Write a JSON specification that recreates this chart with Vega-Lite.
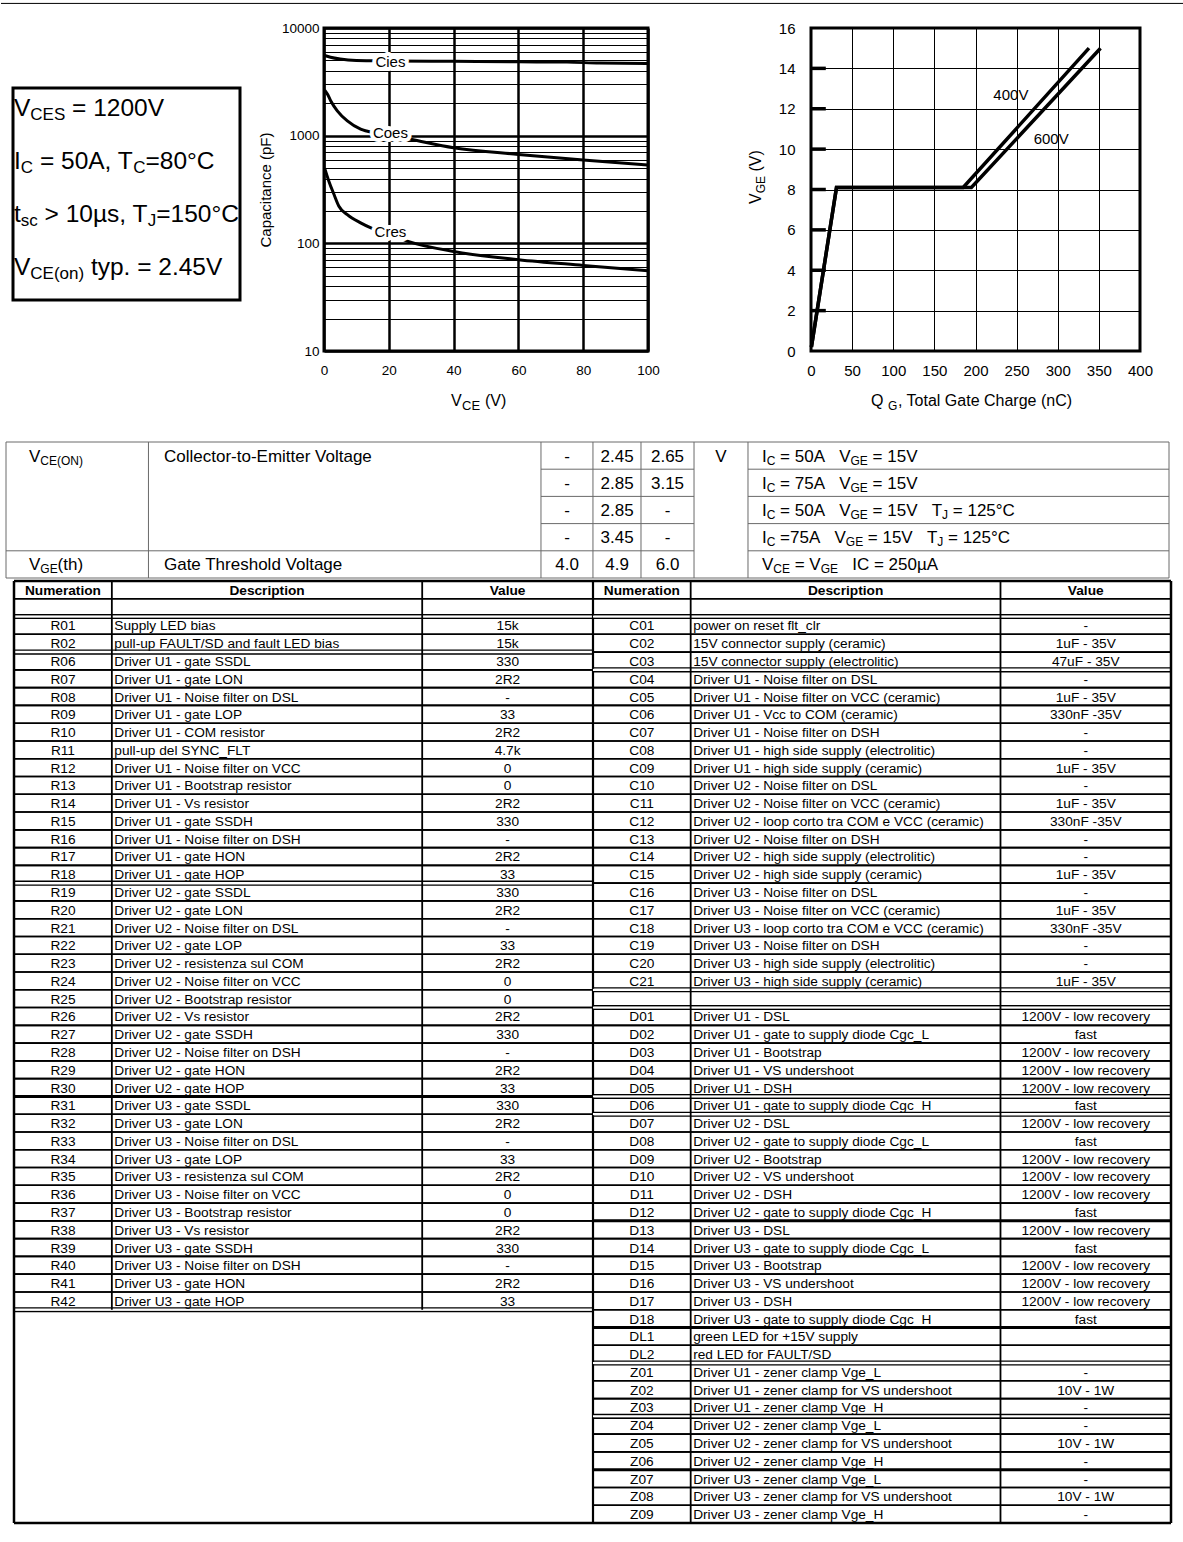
{
"$schema": "https://vega.github.io/schema/vega-lite/v6.json",
"background": "white",
"padding": 0,
"spacing": 0,
"config": {
  "font": "Liberation Sans",
  "view": {"stroke": null},
  "concat": {"spacing": 0},
  "axis": {"labelFont": "Liberation Sans", "titleFont": "Liberation Sans", "labelColor": "black", "titleColor": "black"},
  "text": {"color": "black"}
},
"datasets": {
  "cap": [
    {"series":"Cies","vce":0.2,"cap":5550},{"series":"Cies","vce":2,"cap":5350},{"series":"Cies","vce":5,"cap":5150},{"series":"Cies","vce":10,"cap":5000},{"series":"Cies","vce":20,"cap":4950},{"series":"Cies","vce":40,"cap":4900},{"series":"Cies","vce":60,"cap":4850},{"series":"Cies","vce":75,"cap":4820},{"series":"Cies","vce":85,"cap":4720},{"series":"Cies","vce":100,"cap":4680},
    {"series":"Coes","vce":0.2,"cap":2650},{"series":"Coes","vce":1,"cap":2450},{"series":"Coes","vce":2.1,"cap":2100},{"series":"Coes","vce":4.1,"cap":1700},{"series":"Coes","vce":7.2,"cap":1370},{"series":"Coes","vce":11.3,"cap":1150},{"series":"Coes","vce":16,"cap":1060},{"series":"Coes","vce":20,"cap":1010},{"series":"Coes","vce":26.7,"cap":925},{"series":"Coes","vce":40,"cap":773},{"series":"Coes","vce":60,"cap":670},{"series":"Coes","vce":80,"cap":593},{"series":"Coes","vce":100,"cap":533},
    {"series":"Cres","vce":0.2,"cap":500},{"series":"Cres","vce":1.5,"cap":378},{"series":"Cres","vce":3.1,"cap":284},{"series":"Cres","vce":4.6,"cap":221},{"series":"Cres","vce":7.2,"cap":185},{"series":"Cres","vce":11.3,"cap":155},{"series":"Cres","vce":15,"cap":137},{"series":"Cres","vce":20,"cap":122},{"series":"Cres","vce":25.7,"cap":105},{"series":"Cres","vce":40,"cap":84},{"series":"Cres","vce":60,"cap":70.5},{"series":"Cres","vce":80,"cap":62.4},{"series":"Cres","vce":100,"cap":55.6}
  ],
  "capLabels": [
    {"vce":20.5,"cap":4800,"label":"Cies"},
    {"vce":20.5,"cap":1050,"label":"Coes"},
    {"vce":20.5,"cap":127,"label":"Cres"}
  ],
  "gate": [
    {"series":"400V","qg":0.5,"vge":0.2},{"series":"400V","qg":31,"vge":8.1},{"series":"400V","qg":185,"vge":8.1},{"series":"400V","qg":338,"vge":15},
    {"series":"600V","qg":0.5,"vge":0.2},{"series":"600V","qg":31,"vge":8.1},{"series":"600V","qg":195,"vge":8.1},{"series":"600V","qg":352,"vge":15}
  ],
  "gateLabels": [
    {"qg":243,"vge":12.7,"label":"400V"},
    {"qg":292,"vge":10.5,"label":"600V"}
  ],
  "box": [
    {"line":1,"s1":"V","s2":"CES","s3":"= 1200V","s4":"","s5":""},
    {"line":2,"s1":"I","s2":"C","s3":"= 50A, T","s4":"C","s5":"=80°C"},
    {"line":3,"s1":"t","s2":"sc","s3":"> 10µs, T","s4":"J","s5":"=150°C"},
    {"line":4,"s1":"V","s2":"CE(on)","s3":"typ. = 2.45V","s4":"","s5":""}
  ],
  "spec": [
    {"row":0,"sym":"V","symSub":"CE(ON)","symTail":"","desc":"Collector-to-Emitter Voltage","min":"-","typ":"2.45","max":"2.65","unit":"V","a":"I","b":"C","c":"= 50A\u00a0\u00a0\u00a0V","d":"GE","e":"= 15V","f":"","g":"","h":""},
    {"row":1,"sym":"","symSub":"","symTail":"","desc":"","min":"-","typ":"2.85","max":"3.15","unit":"","a":"I","b":"C","c":"= 75A\u00a0\u00a0\u00a0V","d":"GE","e":"= 15V","f":"","g":"","h":""},
    {"row":2,"sym":"","symSub":"","symTail":"","desc":"","min":"-","typ":"2.85","max":"-","unit":"","a":"I","b":"C","c":"= 50A\u00a0\u00a0\u00a0V","d":"GE","e":"= 15V","f":"T","g":"J","h":"= 125°C"},
    {"row":3,"sym":"","symSub":"","symTail":"","desc":"","min":"-","typ":"3.45","max":"-","unit":"","a":"I","b":"C","c":"=75A\u00a0\u00a0\u00a0V","d":"GE","e":"= 15V","f":"T","g":"J","h":"= 125°C"},
    {"row":4,"sym":"V","symSub":"GE","symTail":"(th)","desc":"Gate Threshold Voltage","min":"4.0","typ":"4.9","max":"6.0","unit":"","a":"V","b":"CE","c":"= V","d":"GE","e":"IC = 250µA","f":"","g":"","h":""}
  ],
  "parts": [
    {"side":"L","row":-2,"ref":"Numeration","desc":"Description","value":"Value"},
    {"side":"L","row":-1,"ref":"","desc":"","value":""},
    {"side":"L","row":0,"ref":"R01","desc":"Supply LED bias","value":"15k"},
    {"side":"L","row":1,"ref":"R02","desc":"pull-up FAULT/SD and fault LED bias","value":"15k"},
    {"side":"L","row":2,"ref":"R06","desc":"Driver U1 - gate SSDL","value":"330"},
    {"side":"L","row":3,"ref":"R07","desc":"Driver U1 - gate LON","value":"2R2"},
    {"side":"L","row":4,"ref":"R08","desc":"Driver U1 - Noise filter on DSL","value":"-"},
    {"side":"L","row":5,"ref":"R09","desc":"Driver U1 - gate LOP","value":"33"},
    {"side":"L","row":6,"ref":"R10","desc":"Driver U1 - COM resistor","value":"2R2"},
    {"side":"L","row":7,"ref":"R11","desc":"pull-up del SYNC_FLT","value":"4.7k"},
    {"side":"L","row":8,"ref":"R12","desc":"Driver U1 - Noise filter on VCC","value":"0"},
    {"side":"L","row":9,"ref":"R13","desc":"Driver U1 - Bootstrap resistor","value":"0"},
    {"side":"L","row":10,"ref":"R14","desc":"Driver U1 - Vs resistor","value":"2R2"},
    {"side":"L","row":11,"ref":"R15","desc":"Driver U1 - gate SSDH","value":"330"},
    {"side":"L","row":12,"ref":"R16","desc":"Driver U1 - Noise filter on DSH","value":"-"},
    {"side":"L","row":13,"ref":"R17","desc":"Driver U1 - gate HON","value":"2R2"},
    {"side":"L","row":14,"ref":"R18","desc":"Driver U1 - gate HOP","value":"33"},
    {"side":"L","row":15,"ref":"R19","desc":"Driver U2 - gate SSDL","value":"330"},
    {"side":"L","row":16,"ref":"R20","desc":"Driver U2 - gate LON","value":"2R2"},
    {"side":"L","row":17,"ref":"R21","desc":"Driver U2 - Noise filter on DSL","value":"-"},
    {"side":"L","row":18,"ref":"R22","desc":"Driver U2 - gate LOP","value":"33"},
    {"side":"L","row":19,"ref":"R23","desc":"Driver U2 - resistenza sul COM","value":"2R2"},
    {"side":"L","row":20,"ref":"R24","desc":"Driver U2 - Noise filter on VCC","value":"0"},
    {"side":"L","row":21,"ref":"R25","desc":"Driver U2 - Bootstrap resistor","value":"0"},
    {"side":"L","row":22,"ref":"R26","desc":"Driver U2 - Vs resistor","value":"2R2"},
    {"side":"L","row":23,"ref":"R27","desc":"Driver U2 - gate SSDH","value":"330"},
    {"side":"L","row":24,"ref":"R28","desc":"Driver U2 - Noise filter on DSH","value":"-"},
    {"side":"L","row":25,"ref":"R29","desc":"Driver U2 - gate HON","value":"2R2"},
    {"side":"L","row":26,"ref":"R30","desc":"Driver U2 - gate HOP","value":"33"},
    {"side":"L","row":27,"ref":"R31","desc":"Driver U3 - gate SSDL","value":"330"},
    {"side":"L","row":28,"ref":"R32","desc":"Driver U3 - gate LON","value":"2R2"},
    {"side":"L","row":29,"ref":"R33","desc":"Driver U3 - Noise filter on DSL","value":"-"},
    {"side":"L","row":30,"ref":"R34","desc":"Driver U3 - gate LOP","value":"33"},
    {"side":"L","row":31,"ref":"R35","desc":"Driver U3 - resistenza sul COM","value":"2R2"},
    {"side":"L","row":32,"ref":"R36","desc":"Driver U3 - Noise filter on VCC","value":"0"},
    {"side":"L","row":33,"ref":"R37","desc":"Driver U3 - Bootstrap resistor","value":"0"},
    {"side":"L","row":34,"ref":"R38","desc":"Driver U3 - Vs resistor","value":"2R2"},
    {"side":"L","row":35,"ref":"R39","desc":"Driver U3 - gate SSDH","value":"330"},
    {"side":"L","row":36,"ref":"R40","desc":"Driver U3 - Noise filter on DSH","value":"-"},
    {"side":"L","row":37,"ref":"R41","desc":"Driver U3 - gate HON","value":"2R2"},
    {"side":"L","row":38,"ref":"R42","desc":"Driver U3 - gate HOP","value":"33"},
    {"side":"R","row":-2,"ref":"Numeration","desc":"Description","value":"Value"},
    {"side":"R","row":-1,"ref":"","desc":"","value":""},
    {"side":"R","row":0,"ref":"C01","desc":"power on reset flt_clr","value":"-"},
    {"side":"R","row":1,"ref":"C02","desc":"15V connector supply (ceramic)","value":"1uF - 35V"},
    {"side":"R","row":2,"ref":"C03","desc":"15V connector supply (electrolitic)","value":"47uF - 35V"},
    {"side":"R","row":3,"ref":"C04","desc":"Driver U1 - Noise filter on DSL","value":"-"},
    {"side":"R","row":4,"ref":"C05","desc":"Driver U1 - Noise filter on VCC (ceramic)","value":"1uF - 35V"},
    {"side":"R","row":5,"ref":"C06","desc":"Driver U1 - Vcc to COM (ceramic)","value":"330nF -35V"},
    {"side":"R","row":6,"ref":"C07","desc":"Driver U1 - Noise filter on DSH","value":"-"},
    {"side":"R","row":7,"ref":"C08","desc":"Driver U1 - high side supply (electrolitic)","value":"-"},
    {"side":"R","row":8,"ref":"C09","desc":"Driver U1 - high side supply (ceramic)","value":"1uF - 35V"},
    {"side":"R","row":9,"ref":"C10","desc":"Driver U2 - Noise filter on DSL","value":"-"},
    {"side":"R","row":10,"ref":"C11","desc":"Driver U2 - Noise filter on VCC (ceramic)","value":"1uF - 35V"},
    {"side":"R","row":11,"ref":"C12","desc":"Driver U2 - loop corto tra COM e VCC (ceramic)","value":"330nF -35V"},
    {"side":"R","row":12,"ref":"C13","desc":"Driver U2 - Noise filter on DSH","value":"-"},
    {"side":"R","row":13,"ref":"C14","desc":"Driver U2 - high side supply (electrolitic)","value":"-"},
    {"side":"R","row":14,"ref":"C15","desc":"Driver U2 - high side supply (ceramic)","value":"1uF - 35V"},
    {"side":"R","row":15,"ref":"C16","desc":"Driver U3 - Noise filter on DSL","value":"-"},
    {"side":"R","row":16,"ref":"C17","desc":"Driver U3 - Noise filter on VCC (ceramic)","value":"1uF - 35V"},
    {"side":"R","row":17,"ref":"C18","desc":"Driver U3 - loop corto tra COM e VCC (ceramic)","value":"330nF -35V"},
    {"side":"R","row":18,"ref":"C19","desc":"Driver U3 - Noise filter on DSH","value":"-"},
    {"side":"R","row":19,"ref":"C20","desc":"Driver U3 - high side supply (electrolitic)","value":"-"},
    {"side":"R","row":20,"ref":"C21","desc":"Driver U3 - high side supply (ceramic)","value":"1uF - 35V"},
    {"side":"R","row":21,"ref":"","desc":"","value":""},
    {"side":"R","row":22,"ref":"D01","desc":"Driver U1 - DSL","value":"1200V - low recovery"},
    {"side":"R","row":23,"ref":"D02","desc":"Driver U1 - gate to supply diode Cgc_L","value":"fast"},
    {"side":"R","row":24,"ref":"D03","desc":"Driver U1 - Bootstrap","value":"1200V - low recovery"},
    {"side":"R","row":25,"ref":"D04","desc":"Driver U1 - VS undershoot","value":"1200V - low recovery"},
    {"side":"R","row":26,"ref":"D05","desc":"Driver U1 - DSH","value":"1200V - low recovery"},
    {"side":"R","row":27,"ref":"D06","desc":"Driver U1 - gate to supply diode Cgc_H","value":"fast"},
    {"side":"R","row":28,"ref":"D07","desc":"Driver U2 - DSL","value":"1200V - low recovery"},
    {"side":"R","row":29,"ref":"D08","desc":"Driver U2 - gate to supply diode Cgc_L","value":"fast"},
    {"side":"R","row":30,"ref":"D09","desc":"Driver U2 - Bootstrap","value":"1200V - low recovery"},
    {"side":"R","row":31,"ref":"D10","desc":"Driver U2 - VS undershoot","value":"1200V - low recovery"},
    {"side":"R","row":32,"ref":"D11","desc":"Driver U2 - DSH","value":"1200V - low recovery"},
    {"side":"R","row":33,"ref":"D12","desc":"Driver U2 - gate to supply diode Cgc_H","value":"fast"},
    {"side":"R","row":34,"ref":"D13","desc":"Driver U3 - DSL","value":"1200V - low recovery"},
    {"side":"R","row":35,"ref":"D14","desc":"Driver U3 - gate to supply diode Cgc_L","value":"fast"},
    {"side":"R","row":36,"ref":"D15","desc":"Driver U3 - Bootstrap","value":"1200V - low recovery"},
    {"side":"R","row":37,"ref":"D16","desc":"Driver U3 - VS undershoot","value":"1200V - low recovery"},
    {"side":"R","row":38,"ref":"D17","desc":"Driver U3 - DSH","value":"1200V - low recovery"},
    {"side":"R","row":39,"ref":"D18","desc":"Driver U3 - gate to supply diode Cgc_H","value":"fast"},
    {"side":"R","row":40,"ref":"DL1","desc":"green LED for +15V supply","value":""},
    {"side":"R","row":41,"ref":"DL2","desc":"red LED for FAULT/SD","value":""},
    {"side":"R","row":42,"ref":"Z01","desc":"Driver U1 - zener clamp Vge_L","value":"-"},
    {"side":"R","row":43,"ref":"Z02","desc":"Driver U1 - zener clamp for VS undershoot","value":"10V - 1W"},
    {"side":"R","row":44,"ref":"Z03","desc":"Driver U1 - zener clamp Vge_H","value":"-"},
    {"side":"R","row":45,"ref":"Z04","desc":"Driver U2 - zener clamp Vge_L","value":"-"},
    {"side":"R","row":46,"ref":"Z05","desc":"Driver U2 - zener clamp for VS undershoot","value":"10V - 1W"},
    {"side":"R","row":47,"ref":"Z06","desc":"Driver U2 - zener clamp Vge_H","value":"-"},
    {"side":"R","row":48,"ref":"Z07","desc":"Driver U3 - zener clamp Vge_L","value":"-"},
    {"side":"R","row":49,"ref":"Z08","desc":"Driver U3 - zener clamp for VS undershoot","value":"10V - 1W"},
    {"side":"R","row":50,"ref":"Z09","desc":"Driver U3 - zener clamp Vge_H","value":"-"}
  ],
  "sepL2": [{"b":-0.5},{"b":1.5},{"b":14.5},{"b":38.5}],
  "sepLT": [{"b":26.5}],
  "sepR2": [{"b":-0.5},{"b":2.5},{"b":20.5},{"b":21.5},{"b":26.5},{"b":27.5},{"b":41.5},{"b":44.5}],
  "sepRT": [{"b":33.5},{"b":39.5},{"b":47.5}]
},
"vconcat": [
  {"width": 1183, "height": 19, "data": {"values": [{}]},
   "mark": {"type": "rule", "color": "black", "strokeWidth": 1},
   "encoding": {"y": {"datum": 0.82, "type": "quantitative", "scale": {"domain": [0, 1]}, "axis": null}}},
  {"hconcat": [
    {"width": 12, "height": 413, "data": {"values": []}, "mark": "point", "encoding": {}},
    {"width": 227, "height": 272, "data": {"name": "box"},
     "layer": [
      {"data": {"values": [{}]}, "mark": {"type": "rect", "filled": false, "color": "black", "strokeWidth": 3},
       "encoding": {"x": {"datum": 0, "type": "quantitative", "scale": {"domain": [0, 1]}, "axis": null}, "x2": {"datum": 1},
                    "y": {"datum": 0.5, "type": "quantitative", "scale": {"domain": [-0.632, 4.5], "reverse": true, "zero": false, "nice": false}, "axis": null}, "y2": {"datum": 4.5}}},
      {"mark": {"type": "text", "align": "left", "baseline": "alphabetic", "fontSize": 24.5, "dx": 1, "dy": 2},
       "encoding": {"x": {"datum": 0, "type": "quantitative", "scale": {"domain": [0, 1]}, "axis": null},
                    "y": {"field": "line", "type": "quantitative", "scale": {"domain": [-0.632, 4.5], "reverse": true, "zero": false, "nice": false}, "axis": null},
                    "text": {"field": "s1"}}},
      {"transform": [{"filter": "datum.line == 1 || datum.line == 4"}],
       "mark": {"type": "text", "align": "left", "baseline": "alphabetic", "fontSize": 17, "dx": 17.3, "dy": 5.5},
       "encoding": {"x": {"datum": 0, "type": "quantitative", "scale": {"domain": [0, 1]}, "axis": null},
                    "y": {"field": "line", "type": "quantitative", "scale": {"domain": [-0.632, 4.5], "reverse": true, "zero": false, "nice": false}, "axis": null},
                    "text": {"field": "s2"}}},
      {"transform": [{"filter": "datum.line == 2 || datum.line == 3"}],
       "mark": {"type": "text", "align": "left", "baseline": "alphabetic", "fontSize": 17, "dx": 7.8, "dy": 5.5},
       "encoding": {"x": {"datum": 0, "type": "quantitative", "scale": {"domain": [0, 1]}, "axis": null},
                    "y": {"field": "line", "type": "quantitative", "scale": {"domain": [-0.632, 4.5], "reverse": true, "zero": false, "nice": false}, "axis": null},
                    "text": {"field": "s2"}}},
      {"transform": [{"filter": "datum.line == 1"}],
       "mark": {"type": "text", "align": "left", "baseline": "alphabetic", "fontSize": 24.5, "dx": 59.1, "dy": 2},
       "encoding": {"x": {"datum": 0, "type": "quantitative", "scale": {"domain": [0, 1]}, "axis": null},
                    "y": {"field": "line", "type": "quantitative", "scale": {"domain": [-0.632, 4.5], "reverse": true, "zero": false, "nice": false}, "axis": null},
                    "text": {"field": "s3"}}},
      {"transform": [{"filter": "datum.line == 2"}],
       "mark": {"type": "text", "align": "left", "baseline": "alphabetic", "fontSize": 24.5, "dx": 26.9, "dy": 2},
       "encoding": {"x": {"datum": 0, "type": "quantitative", "scale": {"domain": [0, 1]}, "axis": null},
                    "y": {"field": "line", "type": "quantitative", "scale": {"domain": [-0.632, 4.5], "reverse": true, "zero": false, "nice": false}, "axis": null},
                    "text": {"field": "s3"}}},
      {"transform": [{"filter": "datum.line == 3"}],
       "mark": {"type": "text", "align": "left", "baseline": "alphabetic", "fontSize": 24.5, "dx": 31.6, "dy": 2},
       "encoding": {"x": {"datum": 0, "type": "quantitative", "scale": {"domain": [0, 1]}, "axis": null},
                    "y": {"field": "line", "type": "quantitative", "scale": {"domain": [-0.632, 4.5], "reverse": true, "zero": false, "nice": false}, "axis": null},
                    "text": {"field": "s3"}}},
      {"transform": [{"filter": "datum.line == 4"}],
       "mark": {"type": "text", "align": "left", "baseline": "alphabetic", "fontSize": 24.5, "dx": 77.9, "dy": 2},
       "encoding": {"x": {"datum": 0, "type": "quantitative", "scale": {"domain": [0, 1]}, "axis": null},
                    "y": {"field": "line", "type": "quantitative", "scale": {"domain": [-0.632, 4.5], "reverse": true, "zero": false, "nice": false}, "axis": null},
                    "text": {"field": "s3"}}},
      {"transform": [{"filter": "datum.line == 2"}],
       "mark": {"type": "text", "align": "left", "baseline": "alphabetic", "fontSize": 17, "dx": 120.2, "dy": 5.5},
       "encoding": {"x": {"datum": 0, "type": "quantitative", "scale": {"domain": [0, 1]}, "axis": null},
                    "y": {"field": "line", "type": "quantitative", "scale": {"domain": [-0.632, 4.5], "reverse": true, "zero": false, "nice": false}, "axis": null},
                    "text": {"field": "s4"}}},
      {"transform": [{"filter": "datum.line == 3"}],
       "mark": {"type": "text", "align": "left", "baseline": "alphabetic", "fontSize": 17, "dx": 134.8, "dy": 5.5},
       "encoding": {"x": {"datum": 0, "type": "quantitative", "scale": {"domain": [0, 1]}, "axis": null},
                    "y": {"field": "line", "type": "quantitative", "scale": {"domain": [-0.632, 4.5], "reverse": true, "zero": false, "nice": false}, "axis": null},
                    "text": {"field": "s4"}}},
      {"transform": [{"filter": "datum.line == 2"}],
       "mark": {"type": "text", "align": "left", "baseline": "alphabetic", "fontSize": 24.5, "dx": 132.5, "dy": 2},
       "encoding": {"x": {"datum": 0, "type": "quantitative", "scale": {"domain": [0, 1]}, "axis": null},
                    "y": {"field": "line", "type": "quantitative", "scale": {"domain": [-0.632, 4.5], "reverse": true, "zero": false, "nice": false}, "axis": null},
                    "text": {"field": "s5"}}},
      {"transform": [{"filter": "datum.line == 3"}],
       "mark": {"type": "text", "align": "left", "baseline": "alphabetic", "fontSize": 24.5, "dx": 143.3, "dy": 2},
       "encoding": {"x": {"datum": 0, "type": "quantitative", "scale": {"domain": [0, 1]}, "axis": null},
                    "y": {"field": "line", "type": "quantitative", "scale": {"domain": [-0.632, 4.5], "reverse": true, "zero": false, "nice": false}, "axis": null},
                    "text": {"field": "s5"}}}
     ]},
    {"width": 84, "height": 1, "data": {"values": []}, "mark": "point", "encoding": {}},
    {"width": 324, "height": 323,
     "view": {"stroke": "black", "strokeWidth": 3},
     "layer": [
      {"data": {"name": "cap"},
       "mark": {"type": "line", "color": "black", "strokeWidth": 3, "interpolate": "monotone"},
       "encoding": {
         "x": {"field": "vce", "type": "quantitative", "scale": {"domain": [0, 100], "nice": false, "zero": false},
               "axis": {"values": [0, 20, 40, 60, 80, 100], "grid": true, "gridColor": "black", "gridWidth": 2.5, "domain": false, "ticks": false, "tickSize": 0, "labelFontSize": 13.5, "labelPadding": 12, "labelFlush": false, "title": null}},
         "y": {"field": "cap", "type": "quantitative", "scale": {"type": "log", "domain": [10, 10000], "nice": false},
               "axis": {"values": [10, 20, 30, 40, 50, 60, 70, 80, 90, 100, 200, 300, 400, 500, 600, 700, 800, 900, 1000, 2000, 3000, 4000, 5000, 6000, 7000, 8000, 9000, 10000],
                        "grid": true, "gridColor": "black",
                        "gridWidth": {"condition": {"test": "datum.value == 10 || datum.value == 100 || datum.value == 1000 || datum.value == 10000", "value": 2.5}, "value": 1.2},
                        "domain": false, "ticks": false, "tickSize": 0, "labelFontSize": 13.5, "labelPadding": 5, "format": "d", "labelOverlap": false,
                        "labelExpr": "datum.value == 10 || datum.value == 100 || datum.value == 1000 || datum.value == 10000 ? datum.label : ''",
                        "title": "Capacitance (pF)", "titleFontSize": 15, "titleFontWeight": "normal", "titlePadding": 8}},
         "detail": {"field": "series"}
       }},
      {"data": {"name": "capLabels"},
       "mark": {"type": "text", "fontSize": 15, "color": "white", "stroke": "white", "strokeWidth": 8, "strokeJoin": "round"},
       "encoding": {"x": {"field": "vce", "type": "quantitative"}, "y": {"field": "cap", "type": "quantitative"}, "text": {"field": "label"}}},
      {"data": {"name": "capLabels"},
       "mark": {"type": "text", "fontSize": 15, "color": "black"},
       "encoding": {"x": {"field": "vce", "type": "quantitative"}, "y": {"field": "cap", "type": "quantitative"}, "text": {"field": "label"}}},
      {"data": {"values": [{"t": "V"}]},
       "mark": {"type": "text", "align": "left", "baseline": "alphabetic", "fontSize": 16, "dx": 127, "dy": 55},
       "encoding": {"x": {"datum": 0, "type": "quantitative"}, "y": {"datum": 10, "type": "quantitative"}, "text": {"field": "t"}}},
      {"data": {"values": [{"t": "CE"}]},
       "mark": {"type": "text", "align": "left", "baseline": "alphabetic", "fontSize": 13, "dx": 138, "dy": 59},
       "encoding": {"x": {"datum": 0, "type": "quantitative"}, "y": {"datum": 10, "type": "quantitative"}, "text": {"field": "t"}}},
      {"data": {"values": [{"t": "(V)"}]},
       "mark": {"type": "text", "align": "left", "baseline": "alphabetic", "fontSize": 16, "dx": 161, "dy": 55},
       "encoding": {"x": {"datum": 0, "type": "quantitative"}, "y": {"datum": 10, "type": "quantitative"}, "text": {"field": "t"}}}
     ]},
    {"width": 163, "height": 1, "data": {"values": []}, "mark": "point", "encoding": {}},
    {"width": 329, "height": 323,
     "view": {"stroke": "black", "strokeWidth": 3},
     "layer": [
      {"data": {"name": "gate"},
       "mark": {"type": "line", "color": "black", "strokeWidth": 3.5},
       "encoding": {
         "x": {"field": "qg", "type": "quantitative", "scale": {"domain": [0, 400], "nice": false, "zero": false},
               "axis": {"values": [0, 50, 100, 150, 200, 250, 300, 350, 400], "grid": true, "gridColor": "black", "gridWidth": 1, "domain": false, "ticks": false, "tickSize": 0, "labelFontSize": 15, "labelPadding": 12, "labelFlush": false, "title": null}},
         "y": {"field": "vge", "type": "quantitative", "scale": {"domain": [0, 16], "nice": false, "zero": false},
               "axis": {"values": [0, 2, 4, 6, 8, 10, 12, 14, 16], "grid": true, "gridColor": "black", "gridWidth": 1, "domain": false, "ticks": false, "tickSize": 0, "labelFontSize": 15, "labelPadding": 16, "title": null}},
         "detail": {"field": "series"}
       }},
      {"data": {"values": [{"v": 2}, {"v": 4}, {"v": 6}, {"v": 8}, {"v": 10}, {"v": 12}, {"v": 14}]},
       "mark": {"type": "rule", "color": "black", "strokeWidth": 3.5},
       "encoding": {"x": {"datum": 0, "type": "quantitative"}, "x2": {"datum": 18}, "y": {"field": "v", "type": "quantitative"}}},
      {"data": {"name": "gateLabels"},
       "mark": {"type": "text", "fontSize": 15, "color": "black"},
       "encoding": {"x": {"field": "qg", "type": "quantitative"}, "y": {"field": "vge", "type": "quantitative"}, "text": {"field": "label"}}},
      {"data": {"values": [{"t": "Q"}]},
       "mark": {"type": "text", "align": "left", "baseline": "alphabetic", "fontSize": 16, "dx": 60, "dy": 55},
       "encoding": {"x": {"datum": 0, "type": "quantitative"}, "y": {"datum": 0, "type": "quantitative"}, "text": {"field": "t"}}},
      {"data": {"values": [{"t": "G"}]},
       "mark": {"type": "text", "align": "left", "baseline": "alphabetic", "fontSize": 12, "dx": 77, "dy": 59},
       "encoding": {"x": {"datum": 0, "type": "quantitative"}, "y": {"datum": 0, "type": "quantitative"}, "text": {"field": "t"}}},
      {"data": {"values": [{"t": ", Total Gate Charge (nC)"}]},
       "mark": {"type": "text", "align": "left", "baseline": "alphabetic", "fontSize": 16, "dx": 87, "dy": 55},
       "encoding": {"x": {"datum": 0, "type": "quantitative"}, "y": {"datum": 0, "type": "quantitative"}, "text": {"field": "t"}}},
      {"data": {"values": [{"t": "V"}]},
       "mark": {"type": "text", "align": "left", "baseline": "alphabetic", "angle": 270, "fontSize": 16, "dx": -14.5, "dy": -50},
       "encoding": {"x": {"datum": 0, "type": "quantitative"}, "y": {"datum": 8, "type": "quantitative"}, "text": {"field": "t"}}},
      {"data": {"values": [{"t": "GE"}]},
       "mark": {"type": "text", "align": "left", "baseline": "alphabetic", "angle": 270, "fontSize": 12, "dx": -3.8, "dy": -46.5},
       "encoding": {"x": {"datum": 0, "type": "quantitative"}, "y": {"datum": 8, "type": "quantitative"}, "text": {"field": "t"}}},
      {"data": {"values": [{"t": "(V)"}]},
       "mark": {"type": "text", "align": "left", "baseline": "alphabetic", "angle": 270, "fontSize": 16, "dx": 17.9, "dy": -50},
       "encoding": {"x": {"datum": 0, "type": "quantitative"}, "y": {"datum": 8, "type": "quantitative"}, "text": {"field": "t"}}}
     ]}
  ], "spacing": 0, "bounds": "flush"},
  {"hconcat": [
    {"width": 5, "height": 1, "data": {"values": []}, "mark": "point", "encoding": {}},
    {"width": 1163, "height": 136,
     "layer": [
      {"data": {"values": [{}]}, "mark": {"type": "rule", "color": "#6a6a6a", "strokeWidth": 1}, "encoding": {"x": {"datum": 0, "type": "quantitative", "scale": {"domain": [0, 100]}, "axis": null}}},
      {"data": {"values": [{}]}, "mark": {"type": "rule", "color": "#6a6a6a", "strokeWidth": 1}, "encoding": {"x": {"datum": 12.25, "type": "quantitative", "scale": {"domain": [0, 100]}, "axis": null}}},
      {"data": {"values": [{}]}, "mark": {"type": "rule", "color": "#6a6a6a", "strokeWidth": 1}, "encoding": {"x": {"datum": 46, "type": "quantitative", "scale": {"domain": [0, 100]}, "axis": null}}},
      {"data": {"values": [{}]}, "mark": {"type": "rule", "color": "#6a6a6a", "strokeWidth": 1}, "encoding": {"x": {"datum": 50.47, "type": "quantitative", "scale": {"domain": [0, 100]}, "axis": null}}},
      {"data": {"values": [{}]}, "mark": {"type": "rule", "color": "#6a6a6a", "strokeWidth": 1}, "encoding": {"x": {"datum": 54.6, "type": "quantitative", "scale": {"domain": [0, 100]}, "axis": null}}},
      {"data": {"values": [{}]}, "mark": {"type": "rule", "color": "#6a6a6a", "strokeWidth": 1}, "encoding": {"x": {"datum": 59.16, "type": "quantitative", "scale": {"domain": [0, 100]}, "axis": null}}},
      {"data": {"values": [{}]}, "mark": {"type": "rule", "color": "#6a6a6a", "strokeWidth": 1}, "encoding": {"x": {"datum": 63.8, "type": "quantitative", "scale": {"domain": [0, 100]}, "axis": null}}},
      {"data": {"values": [{}]}, "mark": {"type": "rule", "color": "#6a6a6a", "strokeWidth": 1}, "encoding": {"x": {"datum": 100, "type": "quantitative", "scale": {"domain": [0, 100]}, "axis": null}}},
      {"data": {"values": [{}]}, "mark": {"type": "rule", "color": "#6a6a6a", "strokeWidth": 1}, "encoding": {"y": {"datum": -0.5, "type": "quantitative", "scale": {"domain": [-0.5, 4.5], "reverse": true, "zero": false, "nice": false}, "axis": null}}},
      {"data": {"values": [{}]}, "mark": {"type": "rule", "color": "#6a6a6a", "strokeWidth": 1}, "encoding": {"y": {"datum": 4.5, "type": "quantitative", "scale": {"domain": [-0.5, 4.5], "reverse": true, "zero": false, "nice": false}, "axis": null}}},
      {"data": {"name": "spec"}, "transform": [{"filter": "datum.row <= 3"}],
       "mark": {"type": "rule", "color": "#6a6a6a", "strokeWidth": 1, "yOffset": 13.6},
       "encoding": {"x": {"datum": 46, "type": "quantitative", "scale": {"domain": [0, 100]}, "axis": null}, "x2": {"datum": 59.16},
                    "y": {"field": "row", "type": "quantitative", "scale": {"domain": [-0.5, 4.5], "reverse": true, "zero": false, "nice": false}, "axis": null}}},
      {"data": {"name": "spec"}, "transform": [{"filter": "datum.row <= 3"}],
       "mark": {"type": "rule", "color": "#6a6a6a", "strokeWidth": 1, "yOffset": 13.6},
       "encoding": {"x": {"datum": 63.8, "type": "quantitative", "scale": {"domain": [0, 100]}, "axis": null}, "x2": {"datum": 100},
                    "y": {"field": "row", "type": "quantitative", "scale": {"domain": [-0.5, 4.5], "reverse": true, "zero": false, "nice": false}, "axis": null}}},
      {"data": {"name": "spec"}, "transform": [{"filter": "datum.row == 3"}],
       "mark": {"type": "rule", "color": "#6a6a6a", "strokeWidth": 1, "yOffset": 13.6},
       "encoding": {"x": {"datum": 0, "type": "quantitative", "scale": {"domain": [0, 100]}, "axis": null}, "x2": {"datum": 46},
                    "y": {"field": "row", "type": "quantitative", "scale": {"domain": [-0.5, 4.5], "reverse": true, "zero": false, "nice": false}, "axis": null}}},
      {"data": {"name": "spec"}, "mark": {"type": "text", "align": "left", "baseline": "alphabetic", "fontSize": 17, "dx": 23, "dy": 6},
       "encoding": {"x": {"datum": 0, "type": "quantitative", "scale": {"domain": [0, 100]}, "axis": null}, "y": {"field": "row", "type": "quantitative", "scale": {"domain": [-0.5, 4.5], "reverse": true, "zero": false, "nice": false}, "axis": null}, "text": {"field": "sym"}}},
      {"data": {"name": "spec"}, "mark": {"type": "text", "align": "left", "baseline": "alphabetic", "fontSize": 12, "dx": 34.3, "dy": 9},
       "encoding": {"x": {"datum": 0, "type": "quantitative", "scale": {"domain": [0, 100]}, "axis": null}, "y": {"field": "row", "type": "quantitative", "scale": {"domain": [-0.5, 4.5], "reverse": true, "zero": false, "nice": false}, "axis": null}, "text": {"field": "symSub"}}},
      {"data": {"name": "spec"}, "mark": {"type": "text", "align": "left", "baseline": "alphabetic", "fontSize": 17, "dx": 51.6, "dy": 6},
       "encoding": {"x": {"datum": 0, "type": "quantitative", "scale": {"domain": [0, 100]}, "axis": null}, "y": {"field": "row", "type": "quantitative", "scale": {"domain": [-0.5, 4.5], "reverse": true, "zero": false, "nice": false}, "axis": null}, "text": {"field": "symTail"}}},
      {"data": {"name": "spec"}, "mark": {"type": "text", "align": "left", "baseline": "alphabetic", "fontSize": 17, "dx": 15.5, "dy": 6},
       "encoding": {"x": {"datum": 12.25, "type": "quantitative", "scale": {"domain": [0, 100]}, "axis": null}, "y": {"field": "row", "type": "quantitative", "scale": {"domain": [-0.5, 4.5], "reverse": true, "zero": false, "nice": false}, "axis": null}, "text": {"field": "desc"}}},
      {"data": {"name": "spec"}, "mark": {"type": "text", "align": "center", "baseline": "alphabetic", "fontSize": 17, "dy": 6},
       "encoding": {"x": {"datum": 48.24, "type": "quantitative", "scale": {"domain": [0, 100]}, "axis": null}, "y": {"field": "row", "type": "quantitative", "scale": {"domain": [-0.5, 4.5], "reverse": true, "zero": false, "nice": false}, "axis": null}, "text": {"field": "min"}}},
      {"data": {"name": "spec"}, "mark": {"type": "text", "align": "center", "baseline": "alphabetic", "fontSize": 17, "dy": 6},
       "encoding": {"x": {"datum": 52.54, "type": "quantitative", "scale": {"domain": [0, 100]}, "axis": null}, "y": {"field": "row", "type": "quantitative", "scale": {"domain": [-0.5, 4.5], "reverse": true, "zero": false, "nice": false}, "axis": null}, "text": {"field": "typ"}}},
      {"data": {"name": "spec"}, "mark": {"type": "text", "align": "center", "baseline": "alphabetic", "fontSize": 17, "dy": 6},
       "encoding": {"x": {"datum": 56.88, "type": "quantitative", "scale": {"domain": [0, 100]}, "axis": null}, "y": {"field": "row", "type": "quantitative", "scale": {"domain": [-0.5, 4.5], "reverse": true, "zero": false, "nice": false}, "axis": null}, "text": {"field": "max"}}},
      {"data": {"name": "spec"}, "mark": {"type": "text", "align": "center", "baseline": "alphabetic", "fontSize": 17, "dy": 6},
       "encoding": {"x": {"datum": 61.48, "type": "quantitative", "scale": {"domain": [0, 100]}, "axis": null}, "y": {"field": "row", "type": "quantitative", "scale": {"domain": [-0.5, 4.5], "reverse": true, "zero": false, "nice": false}, "axis": null}, "text": {"field": "unit"}}},
      {"data": {"name": "spec"}, "mark": {"type": "text", "align": "left", "baseline": "alphabetic", "fontSize": 17, "dx": 14, "dy": 6},
       "encoding": {"x": {"datum": 63.8, "type": "quantitative", "scale": {"domain": [0, 100]}, "axis": null}, "y": {"field": "row", "type": "quantitative", "scale": {"domain": [-0.5, 4.5], "reverse": true, "zero": false, "nice": false}, "axis": null}, "text": {"field": "a"}}},
      {"data": {"name": "spec"}, "transform": [{"filter": "datum.row <= 3"}], "mark": {"type": "text", "align": "left", "baseline": "alphabetic", "fontSize": 12, "dx": 18.7, "dy": 9},
       "encoding": {"x": {"datum": 63.8, "type": "quantitative", "scale": {"domain": [0, 100]}, "axis": null}, "y": {"field": "row", "type": "quantitative", "scale": {"domain": [-0.5, 4.5], "reverse": true, "zero": false, "nice": false}, "axis": null}, "text": {"field": "b"}}},
      {"data": {"name": "spec"}, "transform": [{"filter": "datum.row == 4"}], "mark": {"type": "text", "align": "left", "baseline": "alphabetic", "fontSize": 12, "dx": 25.3, "dy": 9},
       "encoding": {"x": {"datum": 63.8, "type": "quantitative", "scale": {"domain": [0, 100]}, "axis": null}, "y": {"field": "row", "type": "quantitative", "scale": {"domain": [-0.5, 4.5], "reverse": true, "zero": false, "nice": false}, "axis": null}, "text": {"field": "b"}}},
      {"data": {"name": "spec"}, "transform": [{"filter": "datum.row <= 3"}], "mark": {"type": "text", "align": "left", "baseline": "alphabetic", "fontSize": 17, "dx": 32.1, "dy": 6},
       "encoding": {"x": {"datum": 63.8, "type": "quantitative", "scale": {"domain": [0, 100]}, "axis": null}, "y": {"field": "row", "type": "quantitative", "scale": {"domain": [-0.5, 4.5], "reverse": true, "zero": false, "nice": false}, "axis": null}, "text": {"field": "c"}}},
      {"data": {"name": "spec"}, "transform": [{"filter": "datum.row == 4"}], "mark": {"type": "text", "align": "left", "baseline": "alphabetic", "fontSize": 17, "dx": 46.7, "dy": 6},
       "encoding": {"x": {"datum": 63.8, "type": "quantitative", "scale": {"domain": [0, 100]}, "axis": null}, "y": {"field": "row", "type": "quantitative", "scale": {"domain": [-0.5, 4.5], "reverse": true, "zero": false, "nice": false}, "axis": null}, "text": {"field": "c"}}},
      {"data": {"name": "spec"}, "transform": [{"filter": "datum.row <= 2"}], "mark": {"type": "text", "align": "left", "baseline": "alphabetic", "fontSize": 12, "dx": 102.5, "dy": 9},
       "encoding": {"x": {"datum": 63.8, "type": "quantitative", "scale": {"domain": [0, 100]}, "axis": null}, "y": {"field": "row", "type": "quantitative", "scale": {"domain": [-0.5, 4.5], "reverse": true, "zero": false, "nice": false}, "axis": null}, "text": {"field": "d"}}},
      {"data": {"name": "spec"}, "transform": [{"filter": "datum.row == 3"}], "mark": {"type": "text", "align": "left", "baseline": "alphabetic", "fontSize": 12, "dx": 97.8, "dy": 9},
       "encoding": {"x": {"datum": 63.8, "type": "quantitative", "scale": {"domain": [0, 100]}, "axis": null}, "y": {"field": "row", "type": "quantitative", "scale": {"domain": [-0.5, 4.5], "reverse": true, "zero": false, "nice": false}, "axis": null}, "text": {"field": "d"}}},
      {"data": {"name": "spec"}, "transform": [{"filter": "datum.row == 4"}], "mark": {"type": "text", "align": "left", "baseline": "alphabetic", "fontSize": 12, "dx": 72.7, "dy": 9},
       "encoding": {"x": {"datum": 63.8, "type": "quantitative", "scale": {"domain": [0, 100]}, "axis": null}, "y": {"field": "row", "type": "quantitative", "scale": {"domain": [-0.5, 4.5], "reverse": true, "zero": false, "nice": false}, "axis": null}, "text": {"field": "d"}}},
      {"data": {"name": "spec"}, "transform": [{"filter": "datum.row <= 2"}], "mark": {"type": "text", "align": "left", "baseline": "alphabetic", "fontSize": 17, "dx": 124.6, "dy": 6},
       "encoding": {"x": {"datum": 63.8, "type": "quantitative", "scale": {"domain": [0, 100]}, "axis": null}, "y": {"field": "row", "type": "quantitative", "scale": {"domain": [-0.5, 4.5], "reverse": true, "zero": false, "nice": false}, "axis": null}, "text": {"field": "e"}}},
      {"data": {"name": "spec"}, "transform": [{"filter": "datum.row == 3"}], "mark": {"type": "text", "align": "left", "baseline": "alphabetic", "fontSize": 17, "dx": 119.8, "dy": 6},
       "encoding": {"x": {"datum": 63.8, "type": "quantitative", "scale": {"domain": [0, 100]}, "axis": null}, "y": {"field": "row", "type": "quantitative", "scale": {"domain": [-0.5, 4.5], "reverse": true, "zero": false, "nice": false}, "axis": null}, "text": {"field": "e"}}},
      {"data": {"name": "spec"}, "transform": [{"filter": "datum.row == 4"}], "mark": {"type": "text", "align": "left", "baseline": "alphabetic", "fontSize": 17, "dx": 104.2, "dy": 6},
       "encoding": {"x": {"datum": 63.8, "type": "quantitative", "scale": {"domain": [0, 100]}, "axis": null}, "y": {"field": "row", "type": "quantitative", "scale": {"domain": [-0.5, 4.5], "reverse": true, "zero": false, "nice": false}, "axis": null}, "text": {"field": "e"}}},
      {"data": {"name": "spec"}, "transform": [{"filter": "datum.row == 2"}], "mark": {"type": "text", "align": "left", "baseline": "alphabetic", "fontSize": 17, "dx": 183.7, "dy": 6},
       "encoding": {"x": {"datum": 63.8, "type": "quantitative", "scale": {"domain": [0, 100]}, "axis": null}, "y": {"field": "row", "type": "quantitative", "scale": {"domain": [-0.5, 4.5], "reverse": true, "zero": false, "nice": false}, "axis": null}, "text": {"field": "f"}}},
      {"data": {"name": "spec"}, "transform": [{"filter": "datum.row == 3"}], "mark": {"type": "text", "align": "left", "baseline": "alphabetic", "fontSize": 17, "dx": 178.9, "dy": 6},
       "encoding": {"x": {"datum": 63.8, "type": "quantitative", "scale": {"domain": [0, 100]}, "axis": null}, "y": {"field": "row", "type": "quantitative", "scale": {"domain": [-0.5, 4.5], "reverse": true, "zero": false, "nice": false}, "axis": null}, "text": {"field": "f"}}},
      {"data": {"name": "spec"}, "transform": [{"filter": "datum.row == 2"}], "mark": {"type": "text", "align": "left", "baseline": "alphabetic", "fontSize": 12, "dx": 194.1, "dy": 9},
       "encoding": {"x": {"datum": 63.8, "type": "quantitative", "scale": {"domain": [0, 100]}, "axis": null}, "y": {"field": "row", "type": "quantitative", "scale": {"domain": [-0.5, 4.5], "reverse": true, "zero": false, "nice": false}, "axis": null}, "text": {"field": "g"}}},
      {"data": {"name": "spec"}, "transform": [{"filter": "datum.row == 3"}], "mark": {"type": "text", "align": "left", "baseline": "alphabetic", "fontSize": 12, "dx": 189.3, "dy": 9},
       "encoding": {"x": {"datum": 63.8, "type": "quantitative", "scale": {"domain": [0, 100]}, "axis": null}, "y": {"field": "row", "type": "quantitative", "scale": {"domain": [-0.5, 4.5], "reverse": true, "zero": false, "nice": false}, "axis": null}, "text": {"field": "g"}}},
      {"data": {"name": "spec"}, "transform": [{"filter": "datum.row == 2"}], "mark": {"type": "text", "align": "left", "baseline": "alphabetic", "fontSize": 17, "dx": 204.8, "dy": 6},
       "encoding": {"x": {"datum": 63.8, "type": "quantitative", "scale": {"domain": [0, 100]}, "axis": null}, "y": {"field": "row", "type": "quantitative", "scale": {"domain": [-0.5, 4.5], "reverse": true, "zero": false, "nice": false}, "axis": null}, "text": {"field": "h"}}},
      {"data": {"name": "spec"}, "transform": [{"filter": "datum.row == 3"}], "mark": {"type": "text", "align": "left", "baseline": "alphabetic", "fontSize": 17, "dx": 200, "dy": 6},
       "encoding": {"x": {"datum": 63.8, "type": "quantitative", "scale": {"domain": [0, 100]}, "axis": null}, "y": {"field": "row", "type": "quantitative", "scale": {"domain": [-0.5, 4.5], "reverse": true, "zero": false, "nice": false}, "axis": null}, "text": {"field": "h"}}}
     ]}
  ], "spacing": 0, "bounds": "flush"},
  {"hconcat": [
    {"width": 13, "height": 1, "data": {"values": []}, "mark": "point", "encoding": {}},
    {"width": 579, "height": 942,
     "layer": [
      {"data": {"name": "parts"}, "transform": [{"filter": "datum.side == 'L'"}], "mark": {"type": "rule", "color": "black", "strokeWidth": 1.6, "yOffset": -8.887},
       "encoding": {"y": {"field": "row", "type": "quantitative", "scale": {"domain": [-2.5, 50.5], "reverse": true, "zero": false, "nice": false}, "axis": null}}},
      {"data": {"name": "parts"}, "transform": [{"filter": "datum.side == 'L'"}], "mark": {"type": "rule", "color": "black", "strokeWidth": 1.6, "yOffset": 8.887},
       "encoding": {"y": {"field": "row", "type": "quantitative", "scale": {"domain": [-2.5, 50.5], "reverse": true, "zero": false, "nice": false}, "axis": null}}},
      {"data": {"name": "sepL2"}, "mark": {"type": "rule", "color": "white", "strokeWidth": 2.2},
       "encoding": {"y": {"field": "b", "type": "quantitative", "scale": {"domain": [-2.5, 50.5], "reverse": true, "zero": false, "nice": false}, "axis": null}}},
      {"data": {"name": "sepL2"}, "mark": {"type": "rule", "color": "black", "strokeWidth": 1.3, "yOffset": -1.9},
       "encoding": {"y": {"field": "b", "type": "quantitative", "scale": {"domain": [-2.5, 50.5], "reverse": true, "zero": false, "nice": false}, "axis": null}}},
      {"data": {"name": "sepL2"}, "mark": {"type": "rule", "color": "black", "strokeWidth": 1.3, "yOffset": 1.9},
       "encoding": {"y": {"field": "b", "type": "quantitative", "scale": {"domain": [-2.5, 50.5], "reverse": true, "zero": false, "nice": false}, "axis": null}}},
      {"data": {"name": "sepLT"}, "mark": {"type": "rule", "color": "black", "strokeWidth": 3},
       "encoding": {"y": {"field": "b", "type": "quantitative", "scale": {"domain": [-2.5, 50.5], "reverse": true, "zero": false, "nice": false}, "axis": null}}},
      {"data": {"values": [{}]}, "mark": {"type": "rule", "color": "black", "strokeWidth": 1.8},
       "encoding": {"x": {"datum": 16.9, "type": "quantitative", "scale": {"domain": [0, 100]}, "axis": null},
                    "y": {"datum": -2.5, "type": "quantitative", "scale": {"domain": [-2.5, 50.5], "reverse": true, "zero": false, "nice": false}, "axis": null}, "y2": {"datum": 38.5}}},
      {"data": {"values": [{}]}, "mark": {"type": "rule", "color": "black", "strokeWidth": 1.8},
       "encoding": {"x": {"datum": 70.5, "type": "quantitative", "scale": {"domain": [0, 100]}, "axis": null},
                    "y": {"datum": -2.5, "type": "quantitative", "scale": {"domain": [-2.5, 50.5], "reverse": true, "zero": false, "nice": false}, "axis": null}, "y2": {"datum": 38.5}}},
      {"data": {"values": [{}]}, "mark": {"type": "rule", "color": "black", "strokeWidth": 2.5},
       "encoding": {"x": {"datum": 0, "type": "quantitative", "scale": {"domain": [0, 100]}, "axis": null}}},
      {"data": {"values": [{}]}, "mark": {"type": "rule", "color": "black", "strokeWidth": 2.2},
       "encoding": {"x": {"datum": 100, "type": "quantitative", "scale": {"domain": [0, 100]}, "axis": null}}},
      {"data": {"values": [{}]}, "mark": {"type": "rule", "color": "black", "strokeWidth": 2.5},
       "encoding": {"y": {"datum": -2.5, "type": "quantitative", "scale": {"domain": [-2.5, 50.5], "reverse": true, "zero": false, "nice": false}, "axis": null}}},
      {"data": {"values": [{}]}, "mark": {"type": "rule", "color": "black", "strokeWidth": 2.5},
       "encoding": {"y": {"datum": 50.5, "type": "quantitative", "scale": {"domain": [-2.5, 50.5], "reverse": true, "zero": false, "nice": false}, "axis": null}}},
      {"data": {"name": "parts"}, "transform": [{"filter": "datum.side == 'L' && datum.row == -2"}],
       "mark": {"type": "text", "fontSize": 13.7, "fontWeight": "bold", "align": "center", "baseline": "alphabetic", "dy": 5},
       "encoding": {"x": {"datum": 8.45, "type": "quantitative", "scale": {"domain": [0, 100]}, "axis": null}, "y": {"field": "row", "type": "quantitative", "scale": {"domain": [-2.5, 50.5], "reverse": true, "zero": false, "nice": false}, "axis": null}, "text": {"field": "ref"}}},
      {"data": {"name": "parts"}, "transform": [{"filter": "datum.side == 'L' && datum.row == -2"}],
       "mark": {"type": "text", "fontSize": 13.7, "fontWeight": "bold", "align": "center", "baseline": "alphabetic", "dy": 5},
       "encoding": {"x": {"datum": 43.7, "type": "quantitative", "scale": {"domain": [0, 100]}, "axis": null}, "y": {"field": "row", "type": "quantitative", "scale": {"domain": [-2.5, 50.5], "reverse": true, "zero": false, "nice": false}, "axis": null}, "text": {"field": "desc"}}},
      {"data": {"name": "parts"}, "transform": [{"filter": "datum.side == 'L' && datum.row == -2"}],
       "mark": {"type": "text", "fontSize": 13.7, "fontWeight": "bold", "align": "center", "baseline": "alphabetic", "dy": 5},
       "encoding": {"x": {"datum": 85.25, "type": "quantitative", "scale": {"domain": [0, 100]}, "axis": null}, "y": {"field": "row", "type": "quantitative", "scale": {"domain": [-2.5, 50.5], "reverse": true, "zero": false, "nice": false}, "axis": null}, "text": {"field": "value"}}},
      {"data": {"name": "parts"}, "transform": [{"filter": "datum.side == 'L' && datum.row >= -1"}],
       "mark": {"type": "text", "fontSize": 13.7, "align": "center", "baseline": "alphabetic", "dy": 5},
       "encoding": {"x": {"datum": 8.45, "type": "quantitative", "scale": {"domain": [0, 100]}, "axis": null}, "y": {"field": "row", "type": "quantitative", "scale": {"domain": [-2.5, 50.5], "reverse": true, "zero": false, "nice": false}, "axis": null}, "text": {"field": "ref"}}},
      {"data": {"name": "parts"}, "transform": [{"filter": "datum.side == 'L' && datum.row >= -1"}],
       "mark": {"type": "text", "fontSize": 13.7, "align": "left", "baseline": "alphabetic", "dx": 2.5, "dy": 5},
       "encoding": {"x": {"datum": 16.9, "type": "quantitative", "scale": {"domain": [0, 100]}, "axis": null}, "y": {"field": "row", "type": "quantitative", "scale": {"domain": [-2.5, 50.5], "reverse": true, "zero": false, "nice": false}, "axis": null}, "text": {"field": "desc"}}},
      {"data": {"name": "parts"}, "transform": [{"filter": "datum.side == 'L' && datum.row >= -1"}],
       "mark": {"type": "text", "fontSize": 13.7, "align": "center", "baseline": "alphabetic", "dy": 5},
       "encoding": {"x": {"datum": 85.25, "type": "quantitative", "scale": {"domain": [0, 100]}, "axis": null}, "y": {"field": "row", "type": "quantitative", "scale": {"domain": [-2.5, 50.5], "reverse": true, "zero": false, "nice": false}, "axis": null}, "text": {"field": "value"}}}
     ]},
    {"width": 578, "height": 942,
     "layer": [
      {"data": {"name": "parts"}, "transform": [{"filter": "datum.side == 'R'"}], "mark": {"type": "rule", "color": "black", "strokeWidth": 1.6, "yOffset": -8.887},
       "encoding": {"y": {"field": "row", "type": "quantitative", "scale": {"domain": [-2.5, 50.5], "reverse": true, "zero": false, "nice": false}, "axis": null}}},
      {"data": {"name": "parts"}, "transform": [{"filter": "datum.side == 'R'"}], "mark": {"type": "rule", "color": "black", "strokeWidth": 1.6, "yOffset": 8.887},
       "encoding": {"y": {"field": "row", "type": "quantitative", "scale": {"domain": [-2.5, 50.5], "reverse": true, "zero": false, "nice": false}, "axis": null}}},
      {"data": {"name": "sepR2"}, "mark": {"type": "rule", "color": "white", "strokeWidth": 2.2},
       "encoding": {"y": {"field": "b", "type": "quantitative", "scale": {"domain": [-2.5, 50.5], "reverse": true, "zero": false, "nice": false}, "axis": null}}},
      {"data": {"name": "sepR2"}, "mark": {"type": "rule", "color": "black", "strokeWidth": 1.3, "yOffset": -1.9},
       "encoding": {"y": {"field": "b", "type": "quantitative", "scale": {"domain": [-2.5, 50.5], "reverse": true, "zero": false, "nice": false}, "axis": null}}},
      {"data": {"name": "sepR2"}, "mark": {"type": "rule", "color": "black", "strokeWidth": 1.3, "yOffset": 1.9},
       "encoding": {"y": {"field": "b", "type": "quantitative", "scale": {"domain": [-2.5, 50.5], "reverse": true, "zero": false, "nice": false}, "axis": null}}},
      {"data": {"name": "sepRT"}, "mark": {"type": "rule", "color": "black", "strokeWidth": 3},
       "encoding": {"y": {"field": "b", "type": "quantitative", "scale": {"domain": [-2.5, 50.5], "reverse": true, "zero": false, "nice": false}, "axis": null}}},
      {"data": {"values": [{}]}, "mark": {"type": "rule", "color": "black", "strokeWidth": 1.8},
       "encoding": {"x": {"datum": 16.9, "type": "quantitative", "scale": {"domain": [0, 100]}, "axis": null}}},
      {"data": {"values": [{}]}, "mark": {"type": "rule", "color": "black", "strokeWidth": 1.8},
       "encoding": {"x": {"datum": 70.5, "type": "quantitative", "scale": {"domain": [0, 100]}, "axis": null}}},
      {"data": {"values": [{}]}, "mark": {"type": "rule", "color": "black", "strokeWidth": 2.5},
       "encoding": {"x": {"datum": 100, "type": "quantitative", "scale": {"domain": [0, 100]}, "axis": null}}},
      {"data": {"values": [{}]}, "mark": {"type": "rule", "color": "black", "strokeWidth": 2.5},
       "encoding": {"y": {"datum": -2.5, "type": "quantitative", "scale": {"domain": [-2.5, 50.5], "reverse": true, "zero": false, "nice": false}, "axis": null}}},
      {"data": {"values": [{}]}, "mark": {"type": "rule", "color": "black", "strokeWidth": 2.5},
       "encoding": {"y": {"datum": 50.5, "type": "quantitative", "scale": {"domain": [-2.5, 50.5], "reverse": true, "zero": false, "nice": false}, "axis": null}}},
      {"data": {"name": "parts"}, "transform": [{"filter": "datum.side == 'R' && datum.row == -2"}],
       "mark": {"type": "text", "fontSize": 13.7, "fontWeight": "bold", "align": "center", "baseline": "alphabetic", "dy": 5},
       "encoding": {"x": {"datum": 8.45, "type": "quantitative", "scale": {"domain": [0, 100]}, "axis": null}, "y": {"field": "row", "type": "quantitative", "scale": {"domain": [-2.5, 50.5], "reverse": true, "zero": false, "nice": false}, "axis": null}, "text": {"field": "ref"}}},
      {"data": {"name": "parts"}, "transform": [{"filter": "datum.side == 'R' && datum.row == -2"}],
       "mark": {"type": "text", "fontSize": 13.7, "fontWeight": "bold", "align": "center", "baseline": "alphabetic", "dy": 5},
       "encoding": {"x": {"datum": 43.7, "type": "quantitative", "scale": {"domain": [0, 100]}, "axis": null}, "y": {"field": "row", "type": "quantitative", "scale": {"domain": [-2.5, 50.5], "reverse": true, "zero": false, "nice": false}, "axis": null}, "text": {"field": "desc"}}},
      {"data": {"name": "parts"}, "transform": [{"filter": "datum.side == 'R' && datum.row == -2"}],
       "mark": {"type": "text", "fontSize": 13.7, "fontWeight": "bold", "align": "center", "baseline": "alphabetic", "dy": 5},
       "encoding": {"x": {"datum": 85.25, "type": "quantitative", "scale": {"domain": [0, 100]}, "axis": null}, "y": {"field": "row", "type": "quantitative", "scale": {"domain": [-2.5, 50.5], "reverse": true, "zero": false, "nice": false}, "axis": null}, "text": {"field": "value"}}},
      {"data": {"name": "parts"}, "transform": [{"filter": "datum.side == 'R' && datum.row >= -1"}],
       "mark": {"type": "text", "fontSize": 13.7, "align": "center", "baseline": "alphabetic", "dy": 5},
       "encoding": {"x": {"datum": 8.45, "type": "quantitative", "scale": {"domain": [0, 100]}, "axis": null}, "y": {"field": "row", "type": "quantitative", "scale": {"domain": [-2.5, 50.5], "reverse": true, "zero": false, "nice": false}, "axis": null}, "text": {"field": "ref"}}},
      {"data": {"name": "parts"}, "transform": [{"filter": "datum.side == 'R' && datum.row >= -1"}],
       "mark": {"type": "text", "fontSize": 13.7, "align": "left", "baseline": "alphabetic", "dx": 2.5, "dy": 5},
       "encoding": {"x": {"datum": 16.9, "type": "quantitative", "scale": {"domain": [0, 100]}, "axis": null}, "y": {"field": "row", "type": "quantitative", "scale": {"domain": [-2.5, 50.5], "reverse": true, "zero": false, "nice": false}, "axis": null}, "text": {"field": "desc"}}},
      {"data": {"name": "parts"}, "transform": [{"filter": "datum.side == 'R' && datum.row >= -1"}],
       "mark": {"type": "text", "fontSize": 13.7, "align": "center", "baseline": "alphabetic", "dy": 5},
       "encoding": {"x": {"datum": 85.25, "type": "quantitative", "scale": {"domain": [0, 100]}, "axis": null}, "y": {"field": "row", "type": "quantitative", "scale": {"domain": [-2.5, 50.5], "reverse": true, "zero": false, "nice": false}, "axis": null}, "text": {"field": "value"}}}
     ]}
  ], "spacing": 0, "bounds": "flush"}
]
}
